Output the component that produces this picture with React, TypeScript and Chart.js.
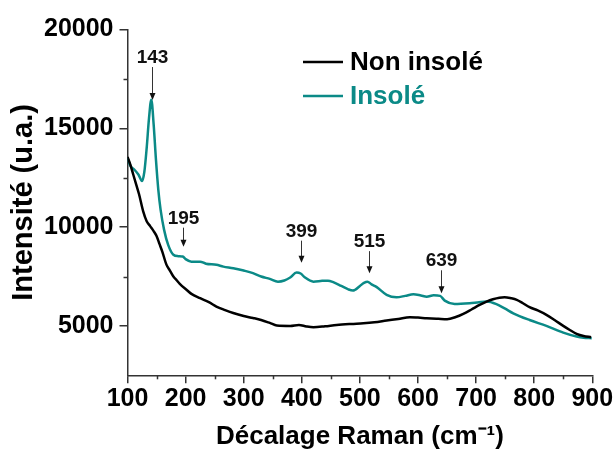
import React, { useEffect, useRef } from "react";
import { Chart, registerables } from "chart.js";

Chart.register(...registerables);

// ---- Data ----
const nonInsoleX = [100, 105, 110, 115, 120, 127, 133, 139, 145, 150, 155, 160, 167, 173, 179, 185, 190, 202, 210, 225, 240, 253, 268, 282, 300, 316, 330, 345, 357, 380, 395, 408, 420, 440, 460, 485, 506, 525, 546, 566, 586, 600, 615, 635, 650, 665, 678, 692, 706, 718, 729, 740, 749, 760, 770, 780, 792, 806, 821, 835, 850, 862, 873, 885, 898];
const nonInsoleY = [13550, 13150, 12650, 12150, 11650, 10800, 10300, 10050, 9800, 9550, 9150, 8750, 8100, 7800, 7500, 7300, 7130, 6820, 6620, 6400, 6200, 5980, 5800, 5650, 5500, 5400, 5300, 5150, 5020, 5000, 5050, 4970, 4930, 4980, 5050, 5100, 5130, 5180, 5270, 5350, 5440, 5420, 5390, 5360, 5340, 5450, 5610, 5830, 6060, 6230, 6350, 6430, 6450, 6400, 6320, 6160, 5950, 5780, 5560, 5300, 5000, 4780, 4600, 4490, 4430];

const insoleX = [100, 105, 112, 119, 125, 129, 133, 137, 141, 145, 149, 153, 157, 163, 170, 179, 187, 195, 200, 210, 225, 235, 253, 265, 282, 300, 316, 330, 345, 359, 370, 380, 391, 398, 405, 420, 435, 445, 455, 468, 480, 488, 500, 507, 513, 520, 529, 546, 563, 578, 592, 605, 615, 627, 638, 646, 663, 689, 705, 718, 735, 750, 764, 792, 821, 850, 873, 885, 899];
const insoleY = [13500, 13100, 12900, 12650, 12330, 12800, 14000, 15500, 16450, 15200, 13400, 11900, 10870, 9860, 9100, 8600, 8530, 8510, 8380, 8250, 8250, 8150, 8090, 8000, 7920, 7800, 7670, 7500, 7380, 7240, 7300, 7450, 7700, 7650, 7460, 7240, 7280, 7290, 7200, 7020, 6850, 6790, 7020, 7180, 7240, 7100, 6960, 6570, 6450, 6520, 6600, 6540, 6480, 6550, 6520, 6280, 6110, 6150, 6200, 6230, 6100, 5870, 5640, 5300, 5000, 4660, 4460, 4400, 4380];

const seriesLabels = ["Non insolé", "Insolé"];

const xTicks = [100, 200, 300, 400, 500, 600, 700, 800, 900];
const xMinorTicks = [150, 250, 350, 450, 550, 650, 750, 850];
const yTicks = [5000, 10000, 15000, 20000];
const yMinorTicks = [7500, 12500, 17500];

// peak annotations: label, x position, arrow tip intensity
const peakLabels = ["143", "195", "399", "515", "639"];
const peakX = [143, 195, 399, 515, 639];
const peakTipY = [16430, 9010, 8200, 7670, 6650];
const peakArrowLen = [33, 19, 22, 22, 23];

const X_TITLE = "Décalage Raman (cm⁻¹)";
const Y_TITLE = "Intensité (u.a.)";

const TEAL = "#0b8a87";
const BLACK = "#000000";
const AXIS = "#333333";
const FONT = "'Liberation Sans', Arial, sans-serif";

const overlayPlugin = {
  id: "overlay",
  afterDraw(chart: any) {
    const ctx = chart.ctx;
    const xs = chart.scales.x;
    const ys = chart.scales.y;
    ctx.save();
    // minor ticks
    ctx.strokeStyle = AXIS;
    ctx.lineWidth = 1.5;
    for (const v of xMinorTicks) {
      const px = Math.round(xs.getPixelForValue(v)) + 0.5;
      ctx.beginPath();
      ctx.moveTo(px, ys.bottom);
      ctx.lineTo(px, ys.bottom + 4);
      ctx.stroke();
    }
    for (const v of yMinorTicks) {
      const py = Math.round(ys.getPixelForValue(v)) + 0.5;
      ctx.beginPath();
      ctx.moveTo(xs.left, py);
      ctx.lineTo(xs.left - 4, py);
      ctx.stroke();
    }
    // peak arrows + labels
    ctx.font = `bold 19px ${FONT}`;
    ctx.textAlign = "center";
    ctx.textBaseline = "alphabetic";
    for (let i = 0; i < peakLabels.length; i++) {
      const px = Math.round(xs.getPixelForValue(peakX[i])) + 0.5;
      const tip = ys.getPixelForValue(peakTipY[i]);
      const top = tip - peakArrowLen[i];
      ctx.strokeStyle = "#333";
      ctx.lineWidth = 1;
      ctx.beginPath();
      ctx.moveTo(px, top);
      ctx.lineTo(px, tip - 6);
      ctx.stroke();
      ctx.fillStyle = "#111";
      ctx.beginPath();
      ctx.moveTo(px - 3, tip - 7);
      ctx.lineTo(px + 3, tip - 7);
      ctx.lineTo(px, tip);
      ctx.closePath();
      ctx.fill();
      ctx.fillStyle = "#111";
      ctx.fillText(peakLabels[i], px, top - 4);
    }
    // legend
    const colors = [BLACK, TEAL];
    const legendY = [62, 96];
    ctx.font = `bold 26px ${FONT}`;
    ctx.textAlign = "left";
    ctx.textBaseline = "middle";
    for (let i = 0; i < seriesLabels.length; i++) {
      ctx.strokeStyle = colors[i];
      ctx.lineWidth = 2.5;
      ctx.beginPath();
      ctx.moveTo(303, legendY[i]);
      ctx.lineTo(343, legendY[i]);
      ctx.stroke();
      ctx.fillStyle = colors[i];
      ctx.fillText(seriesLabels[i], 350, legendY[i] + 1);
    }
    ctx.restore();
  },
};

export default function App() {
  const ref = useRef<HTMLCanvasElement | null>(null);
  useEffect(() => {
    if (!ref.current) return;
    const mk = (xs: number[], ys: number[]) => xs.map((x, i) => ({ x, y: ys[i] }));
    const chart = new Chart(ref.current, {
      type: "line",
      data: {
        datasets: [
          {
            label: seriesLabels[0],
            data: mk(nonInsoleX, nonInsoleY),
            borderColor: BLACK,
            borderWidth: 2.5,
            pointRadius: 0,
            cubicInterpolationMode: "monotone",
            fill: false,
          },
          {
            label: seriesLabels[1],
            data: mk(insoleX, insoleY),
            borderColor: TEAL,
            borderWidth: 2.5,
            pointRadius: 0,
            cubicInterpolationMode: "monotone",
            fill: false,
          },
        ],
      },
      options: {
        responsive: false,
        animation: false,
        devicePixelRatio: 1,
        layout: { padding: { top: 29.5, right: 23.7, bottom: 0, left: 0 } },
        plugins: { legend: { display: false }, tooltip: { enabled: false } },
        scales: {
          x: {
            type: "linear",
            min: 100,
            max: 900,
            afterBuildTicks: (s: any) => {
              s.ticks = xTicks.map((v) => ({ value: v }));
            },
            afterFit: (s: any) => {
              s.height = 74.7;
            },
            ticks: {
              color: "#000",
              font: { family: FONT, size: 25, weight: "bold" },
              padding: 1,
              maxRotation: 0,
              autoSkip: false,
              callback: (v: any) => String(v),
            },
            grid: { drawOnChartArea: false, drawTicks: true, tickLength: 8, color: AXIS, lineWidth: 1.5 },
            border: { display: true, color: AXIS, width: 1.5 },
            title: {
              display: true,
              text: X_TITLE,
              color: "#000",
              font: { family: FONT, size: 26, weight: "bold", lineHeight: 1 },
              padding: { top: 0, bottom: 0 },
            },
          },
          y: {
            type: "linear",
            min: 2500,
            max: 20000,
            afterBuildTicks: (s: any) => {
              s.ticks = yTicks.map((v) => ({ value: v }));
            },
            afterFit: (s: any) => {
              s.width = 127.5;
            },
            ticks: {
              color: "#000",
              font: { family: FONT, size: 25, weight: "bold" },
              padding: 6,
              callback: (v: any) => String(v),
            },
            grid: { drawOnChartArea: false, drawTicks: true, tickLength: 8, color: AXIS, lineWidth: 1.5 },
            border: { display: true, color: AXIS, width: 1.5 },
            title: {
              display: true,
              text: Y_TITLE,
              color: "#000",
              font: { family: FONT, size: 29, weight: "bold", lineHeight: 1 },
              padding: { top: 9.5, bottom: 0 },
            },
          },
        },
      },
      plugins: [overlayPlugin],
    } as any);
    return () => chart.destroy();
  }, []);
  return (
    <div style={{ position: "absolute", left: 0, top: 0, width: 616, height: 450, background: "#fff" }}>
      <canvas ref={ref} width={616} height={450} />
    </div>
  );
}
